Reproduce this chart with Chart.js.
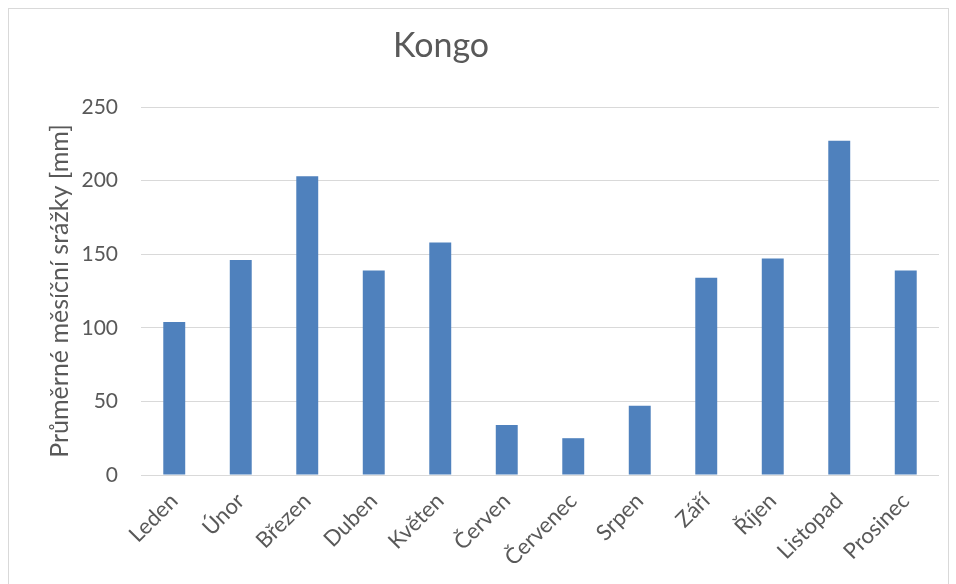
<!DOCTYPE html>
<html>
<head>
<meta charset="utf-8">
<script src="https://cdn.jsdelivr.net/npm/chart.js@4/dist/chart.umd.min.js"></script>
<style>
  body { margin: 0; background: #fff; }
  #wrap { width: 956px; height: 584px; }
</style>
</head>
<body>
<div id="wrap"><canvas id="srazky" width="956" height="584"></canvas></div>
<script>
const mesice = ['Leden', 'Únor', 'Březen', 'Duben', 'Květen', 'Červen',
    'Červenec', 'Srpen', 'Září', 'Říjen', 'Listopad', 'Prosinec'];
const srazky = [104, 146, 203, 139, 158, 34, 25, 47, 134, 147, 227, 139];
const nadpis = 'Kongo';
const osaY = 'Průměrné měsíční srážky [mm]';

const FONT = 'Lato, "Liberation Sans", sans-serif';
const SEDA = '#595959';

// ramecek kolem grafu + nadpis
const ramecek = {
    id: 'ramecek',
    beforeDraw(chart) {
        const c = chart.ctx;
        c.save();
        c.fillStyle = '#fff';
        c.fillRect(0, 0, chart.width, chart.height);
        c.strokeStyle = '#d9d9d9';
        c.lineWidth = 1;
        c.strokeRect(8.5, 8.5, 940, 620);
        c.restore();
    },
    afterDraw(chart) {
        const c = chart.ctx;
        c.save();
        c.font = '34px ' + FONT;
        c.fillStyle = SEDA;
        c.textAlign = 'center';
        c.textBaseline = 'middle';
        c.fillText(nadpis, 441, 46);
        c.restore();
    }
};

new Chart(document.getElementById('srazky'), {
    type: 'bar',
    data: {
        labels: mesice,
        datasets: [{
            data: srazky,
            backgroundColor: '#4f81bd',
            borderWidth: 0,
            barPercentage: 0.33,
            categoryPercentage: 1
        }]
    },
    options: {
        responsive: false,
        animation: false,
        layout: { padding: { top: 107, right: 17, left: 0, bottom: 0 } },
        plugins: {
            legend: { display: false },
            tooltip: { enabled: false }
        },
        scales: {
            x: {
                grid: { display: false },
                border: { display: false },
                ticks: {
                    color: SEDA,
                    font: { family: FONT, size: 22 },
                    maxRotation: 45,
                    minRotation: 45,
                    padding: 5
                },
                afterFit(scale) { scale.height = 109; }
            },
            y: {
                min: 0,
                max: 250,
                ticks: {
                    stepSize: 50,
                    color: SEDA,
                    font: { family: FONT, size: 21 },
                    padding: 23
                },
                grid: { color: '#d9d9d9', drawTicks: false },
                border: { display: false },
                title: {
                    display: true,
                    text: osaY,
                    color: SEDA,
                    font: { family: FONT, size: 25 },
                    padding: { top: 45, bottom: 0 }
                },
                afterFit(scale) { scale.width = 141; }
            }
        }
    },
    plugins: [ramecek]
});
</script>
</body>
</html>
